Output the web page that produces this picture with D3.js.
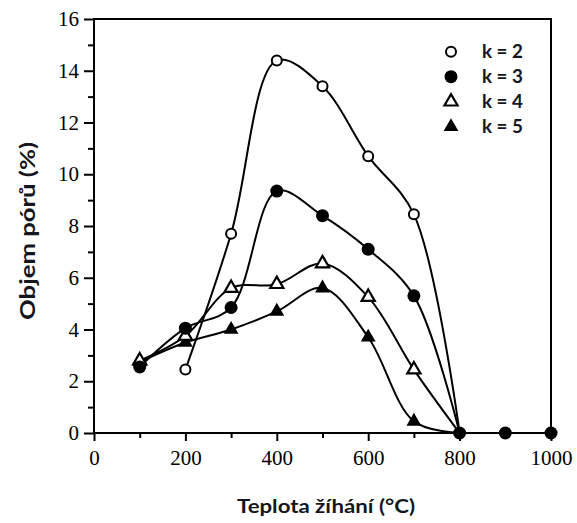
<!DOCTYPE html>
<html><head><meta charset="utf-8">
<script src="https://cdn.jsdelivr.net/npm/d3@7"></script>
<style>body{margin:0;background:#fff}svg{display:block}</style>
</head><body>
<script>
const temps = [100,200,300,400,500,600,700,800,900,1000];
const k2 = [null,2.45,7.7,14.4,13.4,10.7,8.45,0,null,null];
const k3 = [2.55,4.05,4.85,9.35,8.4,7.1,5.3,0,0,0];
const k4 = [2.8,3.75,5.6,5.75,6.55,5.25,2.45,0,null,null];
const k5 = [2.75,3.5,4.0,4.7,5.6,3.7,0.45,0,null,null];
const seriesNames = ["k = 2","k = 3","k = 4","k = 5"];
const yTicks = [0,2,4,6,8,10,12,14,16];
const xTicks = [0,200,400,600,800,1000];

const W=577,H=523;
const m={left:94,right:26,top:19,bottom:90};
const svg=d3.select("body").append("svg").attr("width",W).attr("height",H);
const x=d3.scaleLinear().domain([0,1000]).range([m.left,W-m.right]);
const y=d3.scaleLinear().domain([0,16]).range([H-m.bottom,m.top]);

svg.append("rect").attr("x",x(0)).attr("y",y(16)).attr("width",x(1000)-x(0)).attr("height",y(0)-y(16))
  .attr("fill","none").attr("stroke","#000").attr("stroke-width",2);

const ya=svg.append("g").attr("transform",`translate(${x(0)},0)`)
  .call(d3.axisLeft(y).tickValues(yTicks).tickSize(10).tickPadding(5).tickFormat(d3.format("d")));
ya.append("g").call(d3.axisLeft(y).tickValues(d3.range(1,16,2)).tickSize(6).tickFormat(""));
const xa=svg.append("g").attr("transform",`translate(0,${y(0)})`)
  .call(d3.axisBottom(x).tickValues(xTicks).tickSize(8).tickPadding(9).tickFormat(d3.format("d")));
xa.append("g").call(d3.axisBottom(x).tickValues(d3.range(100,1000,200)).tickSize(5).tickFormat(""));
svg.selectAll(".domain").remove();
svg.selectAll(".tick line").attr("stroke","#000").attr("stroke-width",2);
svg.selectAll(".tick text").attr("font-family","'Liberation Serif','Times New Roman',serif")
  .attr("font-size",21).attr("fill","#000");

svg.append("text").attr("x",326).attr("y",513).attr("text-anchor","middle")
  .attr("font-family","Lato,'Open Sans',sans-serif").attr("font-weight","bold").attr("font-size",19)
  .attr("textLength",178).attr("lengthAdjust","spacingAndGlyphs")
  .attr("fill","#151520").text("Teplota žíhání (°C)");
svg.append("text").attr("transform","translate(35,231) rotate(-90)").attr("text-anchor","middle")
  .attr("font-family","Lato,'Open Sans',sans-serif").attr("font-weight","bold").attr("font-size",20)
  .attr("textLength",178).attr("lengthAdjust","spacingAndGlyphs")
  .attr("fill","#151520").text("Objem pórů (%)");

const all=[k2,k3,k4,k5];
const curve=d3.line().x(d=>x(d[0])).y(d=>y(d[1])).curve(d3.curveCatmullRom.alpha(0.5));
const straight=d3.line().x(d=>x(d[0])).y(d=>y(d[1]));
all.forEach(s=>{
  const pts=temps.map((t,i)=>[t,s[i]]).filter(d=>d[1]!==null);
  const head=pts.filter(d=>d[0]<=800), tail=pts.filter(d=>d[0]>=800);
  svg.append("path").attr("d",curve(head)).attr("fill","none").attr("stroke","#000").attr("stroke-width",2);
  if(tail.length>1) svg.append("path").attr("d",straight(tail)).attr("fill","none").attr("stroke","#000").attr("stroke-width",2);
});

function marker(g,type,cx,cy){
  if(type===0) g.append("circle").attr("cx",cx).attr("cy",cy).attr("r",5).attr("fill","#fff").attr("stroke","#000").attr("stroke-width",2);
  else if(type===1) g.append("circle").attr("cx",cx).attr("cy",cy).attr("r",6.5).attr("fill","#000");
  else if(type===2) g.append("path").attr("d",d3.symbol().type(d3.symbolTriangle).size(75)()).attr("transform",`translate(${cx},${cy})`).attr("fill","#fff").attr("stroke","#000").attr("stroke-width",2.2);
  else g.append("path").attr("d",d3.symbol().type(d3.symbolTriangle).size(95)()).attr("transform",`translate(${cx},${cy})`).attr("fill","#000");
}
const mg=svg.append("g");
[3,2,1,0].forEach(si=>{
  temps.forEach((t,i)=>{ const v=all[si][i]; if(v!==null && !(t===800 && si!==1)) marker(mg,si,x(t),y(v)); });
});

const lg=svg.append("g");
seriesNames.forEach((n,i)=>{
  const ly=51.7+i*25;
  marker(lg,i,451,ly);
  lg.append("text").attr("x",482).attr("y",ly+6).attr("font-family","Lato,'Open Sans',sans-serif")
    .attr("font-weight","bold").attr("font-size",18).attr("textLength",41).attr("lengthAdjust","spacingAndGlyphs")
    .attr("fill","#151520").text(n);
});
</script>
</body></html>
